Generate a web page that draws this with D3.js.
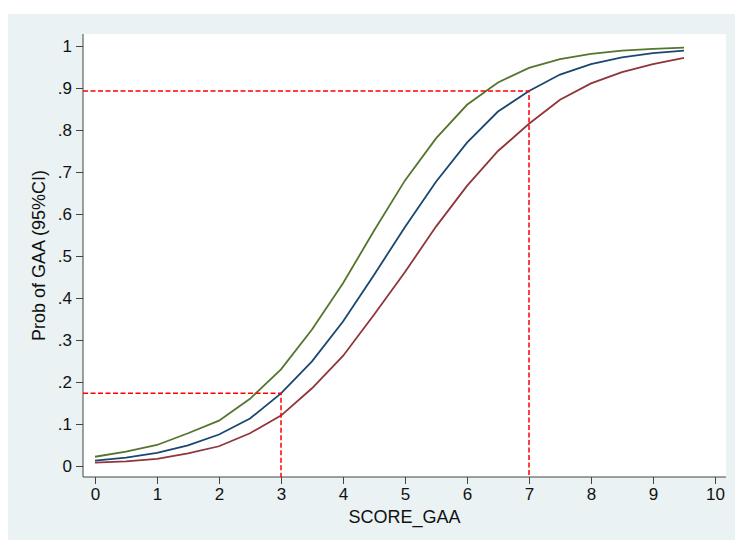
<!DOCTYPE html>
<html>
<head>
<meta charset="utf-8">
<script src="https://cdn.jsdelivr.net/npm/d3@7/dist/d3.min.js"></script>
<style>
  body { margin: 0; background: #fff; }
  svg { display: block; font-family: "Liberation Sans", Arial, sans-serif; }
</style>
</head>
<body>
<div class="chart"></div>
<script>
// score values on the x axis
const scores = [0, 0.5, 1, 1.5, 2, 2.5, 3, 3.5, 4, 4.5, 5, 5.5, 6, 6.5, 7, 7.5, 8, 8.5, 9, 9.5]

// predicted probability and 95% CI bounds
const probFit   = [0.013, 0.020, 0.031, 0.049, 0.075, 0.113, 0.173, 0.249, 0.344, 0.455, 0.569, 0.677, 0.770, 0.844, 0.893, 0.932, 0.957, 0.973, 0.983, 0.989]
const probUpper = [0.022, 0.034, 0.050, 0.078, 0.108, 0.160, 0.230, 0.325, 0.435, 0.560, 0.680, 0.780, 0.860, 0.913, 0.948, 0.969, 0.981, 0.989, 0.993, 0.996]
const probLower = [0.008, 0.011, 0.017, 0.030, 0.047, 0.078, 0.120, 0.185, 0.262, 0.360, 0.462, 0.570, 0.667, 0.750, 0.815, 0.872, 0.911, 0.938, 0.957, 0.972]

// reference cut points (score, prob)
const cutScores = [3, 7]
const cutProbs = [0.173, 0.893]

const xTicks = [0, 1, 2, 3, 4, 5, 6, 7, 8, 9, 10]
const yTicks = [0, 0.1, 0.2, 0.3, 0.4, 0.5, 0.6, 0.7, 0.8, 0.9, 1]
const yTickLabels = ['0', '.1', '.2', '.3', '.4', '.5', '.6', '.7', '.8', '.9', '1']

const W = 735, H = 543
const plot = {left: 83, right: 726, top: 34, bottom: 477}

const svg = d3.select('.chart')
  .append('svg')
  .attr('width', W)
  .attr('height', H)

// outer graph region
svg.append('rect')
  .attr('x', 8).attr('y', 14)
  .attr('width', W - 8).attr('height', 526)
  .attr('fill', '#eaf2f3')

svg.append('rect')
  .attr('x', plot.left).attr('y', plot.top)
  .attr('width', plot.right - plot.left).attr('height', plot.bottom - plot.top)
  .attr('fill', '#fff')

const x = d3.scaleLinear().domain([0, 10]).range([95, 715])
const y = d3.scaleLinear().domain([0, 1]).range([466, 46])

// axes
const yAxis = svg.append('g')
  .attr('transform', `translate(${plot.left},0)`)
  .call(d3.axisLeft(y).tickValues(yTicks).tickSize(7).tickPadding(4)
    .tickFormat((d, i) => yTickLabels[i]))
yAxis.select('.domain').remove()

const xAxis = svg.append('g')
  .attr('transform', `translate(0,${plot.bottom})`)
  .call(d3.axisBottom(x).tickValues(xTicks).tickSize(7).tickPadding(4)
    .tickFormat(d3.format('d')))
xAxis.select('.domain').remove()

svg.selectAll('.tick line').attr('stroke', '#444')
svg.selectAll('.tick text').attr('font-size', 17).attr('fill', '#111')
  .attr('font-family', '"Liberation Sans", Arial, sans-serif')

svg.append('line')
  .attr('x1', plot.left).attr('x2', plot.left)
  .attr('y1', plot.top).attr('y2', plot.bottom)
  .attr('stroke', '#444')
svg.append('line')
  .attr('x1', plot.left).attr('x2', plot.right)
  .attr('y1', plot.bottom).attr('y2', plot.bottom)
  .attr('stroke', '#444')

// curves
const line = d3.line()
  .x((d, i) => x(scores[i]))
  .y(d => y(d))

const series = [
  {values: probUpper, color: '#55752f'},
  {values: probLower, color: '#90353b'},
  {values: probFit, color: '#1a476f'}
]

svg.selectAll('path.curve')
  .data(series)
  .enter()
  .append('path')
  .attr('class', 'curve')
  .attr('d', d => line(d.values))
  .attr('fill', 'none')
  .attr('stroke', d => d.color)
  .attr('stroke-width', 1.8)

// dashed reference lines
cutScores.forEach((s, i) => {
  svg.append('path')
    .attr('d', `M${plot.left},${y(cutProbs[i])}H${x(s)}V${plot.bottom}`)
    .attr('fill', 'none')
    .attr('stroke', '#ff0000')
    .attr('stroke-width', 1.5)
    .attr('stroke-dasharray', '5,2.5')
})

// titles
svg.append('text')
  .attr('x', (plot.left + plot.right) / 2)
  .attr('y', 523)
  .attr('text-anchor', 'middle')
  .attr('font-size', 18)
  .attr('fill', '#111')
  .text('SCORE_GAA')

svg.append('text')
  .attr('transform', `translate(45,${(plot.top + plot.bottom) / 2}) rotate(-90)`)
  .attr('text-anchor', 'middle')
  .attr('font-size', 18)
  .attr('fill', '#111')
  .text('Prob of GAA (95%CI)')
</script>
</body>
</html>
